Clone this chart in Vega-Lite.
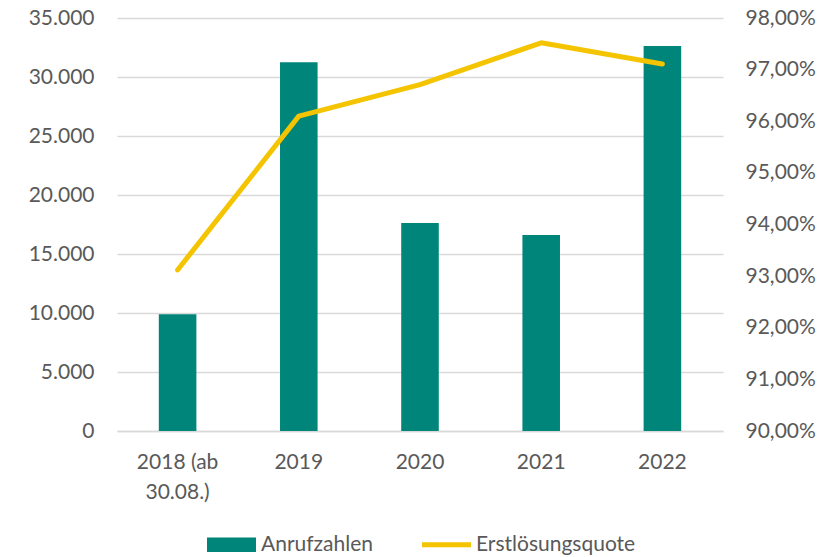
{
  "$schema": "https://vega.github.io/schema/vega-lite/v6.json",
  "width": 606,
  "height": 413,
  "autosize": "none",
  "padding": {"left": 117, "top": 18, "right": 115, "bottom": 126},
  "background": "white",
  "data": {
    "values": [
      {"jahr": "2018 (ab 30.08.)", "anrufe": 9900, "quote": 0.9312},
      {"jahr": "2019", "anrufe": 31250, "quote": 0.9610},
      {"jahr": "2020", "anrufe": 17620, "quote": 0.9671},
      {"jahr": "2021", "anrufe": 16600, "quote": 0.9752},
      {"jahr": "2022", "anrufe": 32620, "quote": 0.9711}
    ]
  },
  "config": {
    "view": {"stroke": null},
    "font": "Lato",
    "locale": {"number": {"decimal": ",", "thousands": ".", "grouping": [3], "currency": ["", " €"]}},
    "axis": {
      "labelFont": "Lato",
      "labelFontSize": 21,
      "labelColor": "#595959",
      "ticks": false,
      "title": null,
      "gridColor": "#d9d9d9",
      "gridWidth": 1.5,
      "domainColor": "#d9d9d9",
      "domainWidth": 1.5
    },
    "legend": {"labelFont": "Lato", "labelFontSize": 21, "labelColor": "#595959"}
  },
  "encoding": {
    "x": {
      "field": "jahr",
      "type": "nominal",
      "sort": null,
      "scale": {"paddingInner": 0.69, "paddingOuter": 0.345},
      "axis": {
        "labelAngle": 0,
        "labelPadding": 20,
        "labelLineHeight": 30,
        "domain": true,
        "grid": false,
        "labelExpr": "datum.label == '2018 (ab 30.08.)' ? ['2018 (ab', '30.08.)'] : datum.label"
      }
    }
  },
  "layer": [
    {
      "mark": {"type": "bar"},
      "encoding": {
        "y": {
          "field": "anrufe",
          "type": "quantitative",
          "scale": {"domain": [0, 35000]},
          "axis": {
            "orient": "left",
            "values": [0, 5000, 10000, 15000, 20000, 25000, 30000, 35000],
            "format": ",d",
            "domain": false,
            "grid": true,
            "labelPadding": 23
          }
        },
        "color": {
          "datum": "Anrufzahlen",
          "type": "nominal",
          "scale": {"domain": ["Anrufzahlen", "Erstlösungsquote"], "range": ["#00857a", "#f5c400"]},
          "legend": {
            "title": null,
            "orient": "none",
            "direction": "horizontal",
            "columns": 2,
            "legendX": 90,
            "legendY": 502,
            "symbolType": "square",
            "symbolSize": 2400,
            "symbolStrokeWidth": 0,
            "labelOffset": 5,
            "columnPadding": 48,
            "encode": {
              "symbols": {
                "update": {
                  "shape": {"signal": "datum.label === 'Anrufzahlen' ? 'M-1,-0.3H1V0.3H-1Z' : 'M-1,-0.3L-1,-0.3M-1,-0.1H1V0.1H-1ZM1,0.3L1,0.3'"},
                  "fill": {"scale": "color", "field": "value"},
                  "strokeWidth": {"value": 0},
                  "opacity": {"value": 1}
                }
              }
            }
          }
        }
      }
    },
    {
      "mark": {"type": "line", "strokeWidth": 5, "strokeCap": "round", "strokeJoin": "round"},
      "encoding": {
        "y": {
          "field": "quote",
          "type": "quantitative",
          "scale": {"domain": [0.9, 0.98], "zero": false},
          "axis": {
            "orient": "right",
            "values": [0.9, 0.91, 0.92, 0.93, 0.94, 0.95, 0.96, 0.97, 0.98],
            "format": ".2%",
            "domain": false,
            "grid": false,
            "labelPadding": 22
          }
        },
        "color": {"datum": "Erstlösungsquote", "type": "nominal"}
      }
    }
  ],
  "resolve": {"scale": {"y": "independent"}}
}
